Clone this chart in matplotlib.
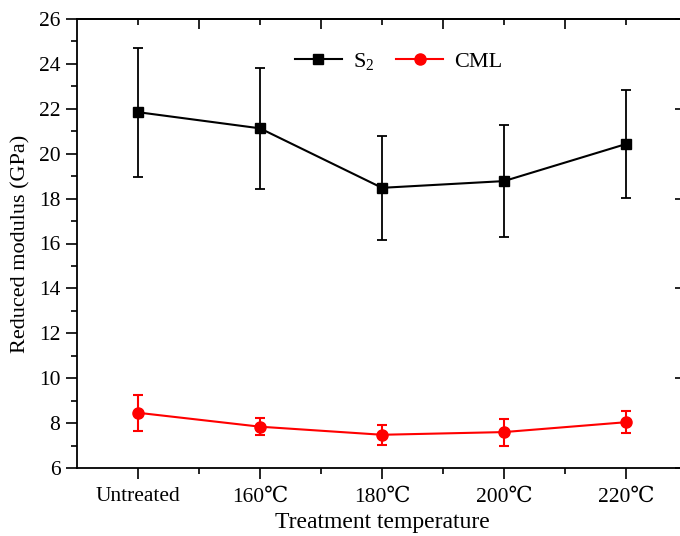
import matplotlib
matplotlib.use("Agg")
import matplotlib.pyplot as plt
from matplotlib.ticker import FixedLocator
from matplotlib.lines import Line2D

plt.rcParams['font.family'] = ['Liberation Serif', 'DejaVu Serif']
plt.rcParams['mathtext.fontset'] = 'custom'
plt.rcParams['mathtext.rm'] = 'Liberation Serif'
plt.rcParams['mathtext.it'] = 'Liberation Serif'

categories = ["Untreated", "160\u2103", "180\u2103", "200\u2103", "220\u2103"]
s2_mean = [21.85, 21.13, 18.48, 18.78, 20.43]
s2_err = [2.88, 2.70, 2.33, 2.48, 2.40]
cml_mean = [8.46, 7.84, 7.48, 7.60, 8.04]
cml_err = [0.81, 0.39, 0.45, 0.60, 0.50]

x = list(range(1, len(categories) + 1))

fig = plt.figure(figsize=(6.8, 5.36), dpi=100)
ax = fig.add_axes([77/680, 68/536, 610/680, 449/536])

ax.errorbar(x, s2_mean, yerr=s2_err, color='black', marker='s', markersize=7,
            lw=1.5, elinewidth=1.3, capsize=3.5, capthick=1.3)
ax.errorbar(x, cml_mean, yerr=cml_err, color='red', marker='o', markersize=8,
            lw=1.5, elinewidth=1.5, capsize=3.5, capthick=1.5)

ax.set_xlim(0.5, 5.5)
ax.set_ylim(6, 26)
ax.set_xticks(x)
ax.set_xticklabels(categories)
ax.xaxis.set_minor_locator(FixedLocator([1.5, 2.5, 3.5, 4.5]))
ax.set_yticks(range(6, 27, 2))
ax.yaxis.set_minor_locator(FixedLocator(range(7, 26, 2)))
ax.tick_params(axis='both', which='major', labelsize=15.5, width=1.2, length=8, direction='out')
ax.tick_params(axis='both', which='minor', width=1.2, length=4.5, direction='out')
ax.tick_params(axis='x', which='major', pad=6)
ax.tick_params(axis='y', which='major', pad=4)
for s in ax.spines.values():
    s.set_linewidth(1.3)

top = ax.secondary_xaxis('top')
top.set_xticks([1.5, 2.5, 3.5, 4.5])
top.xaxis.set_minor_locator(FixedLocator([1, 2, 3, 4, 5]))
top.tick_params(which='major', direction='in', length=7, width=1.2, labeltop=False)
top.tick_params(which='minor', direction='in', length=4, width=1.2)
top.spines['top'].set_linewidth(1.3)

right = ax.secondary_yaxis('right')
right.set_yticks([6, 10, 14, 18, 22, 26])
right.tick_params(which='major', direction='in', length=9, width=1.2, labelright=False)

ax.set_xlabel('Treatment temperature', fontsize=17, labelpad=4)
ax.set_ylabel('Reduced modulus (GPa)', fontsize=16, labelpad=6)

handles = [Line2D([], [], color='black', marker='s', markersize=7, lw=1.5),
           Line2D([], [], color='red', marker='o', markersize=8, lw=1.5)]
fig.legend(handles, ['S$_2$', 'CML'], loc='upper left', bbox_to_anchor=(295/680, 1 - 51/536),
           bbox_transform=fig.transFigure, ncol=2, frameon=False, fontsize=16,
           handlelength=2.1, columnspacing=1.0, handletextpad=0.5, borderpad=0, borderaxespad=0)

fig.savefig('out.png', dpi=100)
